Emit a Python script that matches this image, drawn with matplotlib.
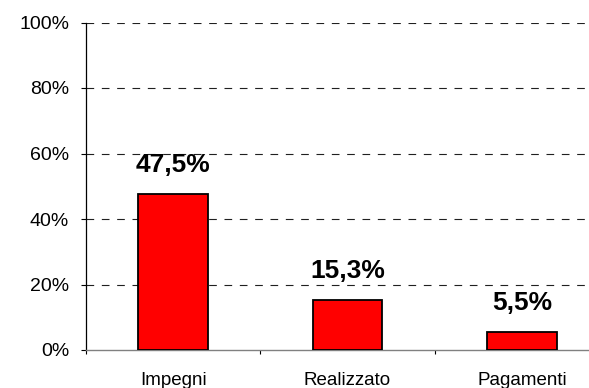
import matplotlib.pyplot as plt
import numpy as np
from matplotlib.ticker import FixedLocator, NullFormatter

categories = ["Impegni", "Realizzato", "Pagamenti"]
values = [47.5, 15.3, 5.5]
value_labels = ["47,5%", "15,3%", "5,5%"]
y_ticks = [0, 20, 40, 60, 80, 100]
y_tick_labels = ["0%", "20%", "40%", "60%", "80%", "100%"]

plt.rcParams['font.family'] = ['Liberation Sans', 'DejaVu Sans']

fig = plt.figure(figsize=(5.89, 3.88), dpi=100)
ax = fig.add_axes([86 / 589, (388 - 350) / 388, (609 - 86) / 589, (350 - 22.5) / 388])

x = np.arange(len(categories))
ax.bar(x, values, width=0.4, color="#ff0000", edgecolor="black", linewidth=1.3, zorder=3)

for xi, v, lab in zip(x, values, value_labels):
    ax.annotate(lab, (xi, v), xytext=(0, 16), textcoords="offset points",
                ha="center", va="baseline", fontsize=19, fontweight="bold")

ax.set_xlim(-0.5, len(categories) - 0.5)
ax.set_ylim(0, 100)

ax.set_yticks(y_ticks)
ax.set_yticklabels(y_tick_labels, fontsize=14)
for y in y_ticks[1:]:
    ax.axhline(y, color="#202020", linewidth=0.8, linestyle=(0, (6.9, 6.9)), zorder=1)

ax.set_xticks(x)
ax.set_xticklabels(categories, fontsize=13.5)
ax.tick_params(axis="x", which="major", length=0, pad=15.5)
ax.xaxis.set_minor_locator(FixedLocator(np.arange(-0.5, len(categories), 1.0)))
ax.xaxis.set_minor_formatter(NullFormatter())
ax.tick_params(axis="x", which="minor", length=3, width=0.8, color="black")
ax.tick_params(axis="y", length=3.6, width=0.8, pad=8.6)

for side in ("top", "right"):
    ax.spines[side].set_visible(False)
ax.spines["left"].set_linewidth(0.9)
ax.spines["left"].set_color("black")
ax.spines["bottom"].set_color("#808080")
ax.spines["bottom"].set_linewidth(1.0)

fig.savefig("out.png", dpi=100)
